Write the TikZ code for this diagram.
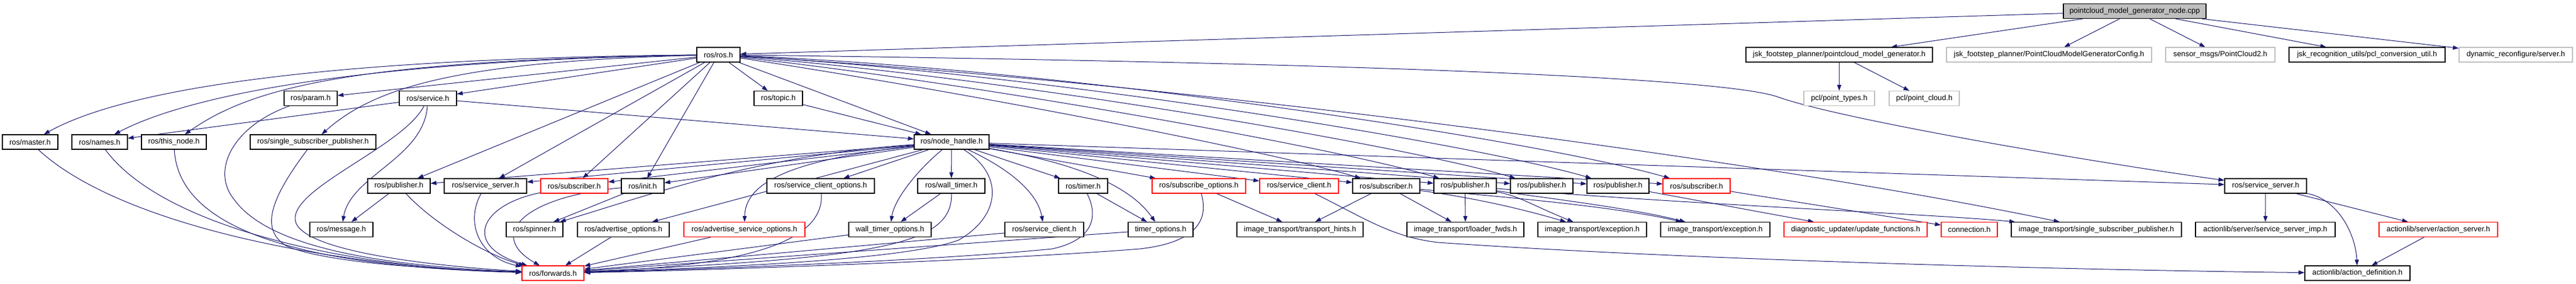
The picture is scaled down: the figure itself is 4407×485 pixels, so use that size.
\documentclass[tikz,border=0pt]{standalone}
\usepackage{fontspec}
\setmainfont{Liberation Sans}
\usetikzlibrary{arrows.meta}
\definecolor{edgec}{HTML}{191970}
\definecolor{greyb}{HTML}{BFBFBF}
\definecolor{redb}{HTML}{FF0000}
\pgfdeclarelayer{bg}
\pgfsetlayers{bg,main}
\begin{document}
\begin{tikzpicture}[x=1bp,y=-1bp,
  box/.style={draw=black, line width=1.2bp, minimum height=25bp, inner sep=0pt, font=\fontsize{12.9}{15}\selectfont, text=black, fill=white},
  redbox/.style={box, draw=redb},
  greybox/.style={box, draw=greyb},
  rootbox/.style={box, fill=greyb},
  edge/.style={draw=edgec, line width=1bp, -{Triangle[length=10bp,width=7bp]}},
]
\useasboundingbox (0,0) rectangle (4407,485);
% row 0
\node[rootbox, minimum width=244bp] (root) at (3652,19) {pointcloud\_model\_generator\_node.cpp};
% row 1
\node[box, minimum width=74bp] (ros) at (1229,93.5) {ros/ros.h};
\node[box, minimum width=319bp] (pmg) at (3146.5,93.5) {jsk\_footstep\_planner/pointcloud\_model\_generator.h};
\node[greybox, minimum width=351bp] (cfg) at (3505.5,93.5) {jsk\_footstep\_planner/PointCloudModelGeneratorConfig.h};
\node[greybox, minimum width=187bp] (pc2) at (3798.5,93.5) {sensor\_msgs/PointCloud2.h};
\node[box, minimum width=267bp] (pclconv) at (4049.5,93.5) {jsk\_recognition\_utils/pcl\_conversion\_util.h};
\node[greybox, minimum width=194bp] (dyn) at (4304,93.5) {dynamic\_reconfigure/server.h};
% row 2
\node[box, minimum width=91bp] (param) at (531.5,168) {ros/param.h};
\node[box, minimum width=98bp] (service) at (732,168) {ros/service.h};
\node[box, minimum width=83bp] (topic) at (1331.5,168) {ros/topic.h};
\node[greybox, minimum width=121bp] (ptypes) at (3146.5,168) {pcl/point\_types.h};
\node[greybox, minimum width=120bp] (pcloud) at (3292,168) {pcl/point\_cloud.h};
% row 3
\node[box, minimum width=95bp] (master) at (51.5,242.5) {ros/master.h};
\node[box, minimum width=95bp] (names) at (170.5,242.5) {ros/names.h};
\node[box, minimum width=111bp] (thisnode) at (297.5,242.5) {ros/this\_node.h};
\node[box, minimum width=215bp] (ssp) at (535.5,242.5) {ros/single\_subscriber\_publisher.h};
\node[box, minimum width=128bp] (nh) at (1628,242.5) {ros/node\_handle.h};
% row 4
\node[box, minimum width=107bp] (pubA) at (682.5,317.5) {ros/publisher.h};
\node[box, minimum width=141bp] (ssA) at (830.5,317.5) {ros/service\_server.h};
\node[redbox, minimum width=115bp] (subR) at (982.5,317.5) {ros/subscriber.h};
\node[box, minimum width=73bp] (init) at (1099.5,317.5) {ros/init.h};
\node[box, minimum width=184bp] (sco) at (1404,317.5) {ros/service\_client\_options.h};
\node[box, minimum width=115bp] (wt) at (1627.5,317.5) {ros/wall\_timer.h};
\node[box, minimum width=84bp] (timer) at (1853,317.5) {ros/timer.h};
\node[redbox, minimum width=160bp] (so) at (2051,317.5) {ros/subscribe\_options.h};
\node[redbox, minimum width=135bp] (scR) at (2222.5,317.5) {ros/service\_client.h};
\node[box, minimum width=115bp] (subB) at (2371.5,317.5) {ros/subscriber.h};
\node[box, minimum width=107bp] (pubB) at (2506.5,317.5) {ros/publisher.h};
\node[box, minimum width=107bp] (pubC) at (2637.5,317.5) {ros/publisher.h};
\node[box, minimum width=106bp] (pubD) at (2768,317.5) {ros/publisher.h};
\node[redbox, minimum width=115bp] (subE) at (2902.5,317.5) {ros/subscriber.h};
\node[box, minimum width=140bp] (ssB) at (3876,317.5) {ros/service\_server.h};
% row 5
\node[box, minimum width=108bp] (msg) at (584,392) {ros/message.h};
\node[box, minimum width=97bp] (spinner) at (914.5,392) {ros/spinner.h};
\node[box, minimum width=157bp] (ao) at (1066.5,392) {ros/advertise\_options.h};
\node[redbox, minimum width=207bp] (aso) at (1273.5,392) {ros/advertise\_service\_options.h};
\node[box, minimum width=141bp] (wto) at (1522.5,392) {wall\_timer\_options.h};
\node[box, minimum width=135bp] (sc) at (1786.5,392) {ros/service\_client.h};
\node[box, minimum width=111bp] (to) at (1985.5,392) {timer\_options.h};
\node[box, minimum width=216bp] (th) at (2224,392) {image\_transport/transport\_hints.h};
\node[box, minimum width=200bp] (lf) at (2507,392) {image\_transport/loader\_fwds.h};
\node[box, minimum width=186bp] (exA) at (2724,392) {image\_transport/exception.h};
\node[box, minimum width=187bp] (exB) at (2934.5,392) {image\_transport/exception.h};
\node[redbox, minimum width=245bp] (du) at (3174.5,392) {diagnostic\_updater/update\_functions.h};
\node[redbox, minimum width=96bp] (conn) at (3369,392) {connection.h};
\node[box, minimum width=291bp] (itssp) at (3586.5,392) {image\_transport/single\_subscriber\_publisher.h};
\node[box, minimum width=239bp] (ssimp) at (3875.5,392) {actionlib/server/service\_server\_imp.h};
\node[redbox, minimum width=203bp] (as) at (4171.5,392) {actionlib/server/action\_server.h};
% row 6
\node[redbox, minimum width=106bp] (fwd) at (946,466.5) {ros/forwards.h};
\node[box, minimum width=180bp] (ad) at (4033,466.5) {actionlib/action\_definition.h};

\begin{pgfonlayer}{bg}
% ---- edges from root
\draw[edge] (root) -- (ros);
\draw[edge] (root) -- (pmg);
\draw[edge] (root) -- (cfg);
\draw[edge] (root) -- (pc2);
\draw[edge] (root) -- (pclconv);
\draw[edge] (root) -- (dyn);
\draw[edge] (pmg) -- (ptypes);
\draw[edge] (pmg) -- (pcloud);
% ---- ros.h left
\draw[edge] (ros) .. controls (500,100) and (200,160) .. (master);
\draw[edge] (ros) .. controls (550,105) and (300,175) .. (names);
\draw[edge] (ros) .. controls (600,103) and (430,150) .. (thisnode);
\draw[edge] (ros) -- (param);
\draw[edge] (ros) -- (service);
\draw[edge] (ros) .. controls (780,105) and (640,150) .. (ssp);
% ---- ros.h bottom
\draw[edge] (ros) -- (pubA);
\draw[edge] (ros) -- (ssA);
\draw[edge] (ros) -- (subR);
\draw[edge] (ros) -- (init);
\draw[edge] (ros) -- (topic);
\draw[edge] (ros) -- (nh);
% ---- ros.h right
\draw[edge] (ros) .. controls (2400,108) and (2950,135) .. (3040,165) .. controls (3150,205) and (3600,280) .. (ssB);
\draw[edge] (ros) .. controls (2000,140) and (3000,270) .. (itssp);
\draw[edge] (ros) .. controls +(400,60) and +(-200,-60) .. (subB);
\draw[edge] (ros) .. controls +(450,50) and +(-220,-65) .. (pubB);
\draw[edge] (ros) .. controls +(500,40) and +(-240,-70) .. (pubC);
\draw[edge] (ros) .. controls +(550,32) and +(-260,-75) .. (pubD);
\draw[edge] (ros) .. controls +(600,25) and +(-280,-80) .. (subE);
% ---- service / topic
\draw[edge] (service) -- (names);
\draw[edge] (service) .. controls (725,270) and (600,300) .. (msg);
\draw[edge] (service) .. controls (690,250) and (500,320) .. (505,375) .. controls (510,430) and (750,455) .. (fwd);
\draw[edge] (service) -- (nh);
\draw[edge] (topic) -- (nh);
% ---- node_handle
\draw[edge] (nh) -- (pubA);
\draw[edge] (nh) -- (ssA);
\draw[edge] (nh) -- (subR);
\draw[edge] (nh) -- (init);
\draw[edge] (nh) .. controls (1300,265) and (1120,330) .. (spinner);
\draw[edge] (nh) -- (ao);
\draw[edge] (nh) .. controls (1330,275) and (1275,320) .. (aso);
\draw[edge] (nh) -- (sco);
\draw[edge] (nh) -- (wt);
\draw[edge] (nh) .. controls (1570,290) and (1530,340) .. (wto);
\draw[edge] (nh) .. controls (1730,290) and (1775,330) .. (sc);
\draw[edge] (nh) -- (timer);
\draw[edge] (nh) .. controls (1850,280) and (1935,320) .. (to);
\draw[edge] (nh) -- (so);
\draw[edge] (nh) -- (scR);
\draw[edge] (nh) -- (subB);
\draw[edge] (nh) -- (pubB);
\draw[edge] (nh) -- (pubC);
\draw[edge] (nh) -- (pubD);
\draw[edge] (nh) -- (subE);
\draw[edge] (nh) -- (ssB);
\draw[edge] (nh) .. controls (1720,300) and (1710,370) .. (1640,410) .. controls (1560,440) and (1300,455) .. (fwd);
% ---- into forwards
\draw[edge] (master) .. controls (200,380) and (550,455) .. (fwd);
\draw[edge] (names) .. controls (280,390) and (600,458) .. (fwd);
\draw[edge] (thisnode) .. controls (305,380) and (480,455) .. (fwd);
\draw[edge] (param) .. controls (400,215) and (360,290) .. (400,340) .. controls (450,410) and (600,452) .. (fwd);
\draw[edge] (ssp) .. controls (470,330) and (440,390) .. (490,420) .. controls (560,450) and (750,460) .. (fwd);
\draw[edge] (pubA) -- (msg);
\draw[edge] (pubA) .. controls (740,380) and (830,435) .. (fwd);
\draw[edge] (ssA) .. controls (795,380) and (820,440) .. (fwd);
\draw[edge] (subR) .. controls (820,350) and (790,420) .. (fwd);
\draw[edge] (init) .. controls (900,335) and (830,400) .. (fwd);
\draw[edge] (init) -- (spinner);
\draw[edge] (ao) -- (fwd);
\draw[edge] (aso) -- (fwd);
\draw[edge] (sco) .. controls (1412,420) and (1250,455) .. (fwd);
\draw[edge] (wt) -- (wto);
\draw[edge] (wt) .. controls (1630,420) and (1500,440) .. (fwd);
\draw[edge] (wto) -- (fwd);
\draw[edge] (sc) -- (fwd);
\draw[edge] (timer) -- (to);
\draw[edge] (timer) .. controls (1880,370) and (1870,410) .. (1800,425) .. controls (1600,445) and (1200,460) .. (fwd);
\draw[edge] (to) -- (fwd);
\draw[edge] (so) .. controls (2070,380) and (2040,415) .. (1950,425) .. controls (1700,445) and (1200,462) .. (fwd);
% ---- right part
\draw[edge] (so) -- (th);
\draw[edge] (scR) .. controls (2330,370) and (2380,405) .. (2460,414) .. controls (2900,445) and (3600,462) .. (ad);
\draw[edge] (subB) -- (th);
\draw[edge] (subB) -- (lf);
\draw[edge] (subB) .. controls (2500,335) and (2580,350) .. (exA);
\draw[edge] (subB) .. controls (2550,335) and (2750,350) .. (exB);
\draw[edge] (pubB) -- (lf);
\draw[edge] (pubB) .. controls (2600,335) and (2620,350) .. (exA);
\draw[edge] (pubB) .. controls (2620,335) and (2790,355) .. (exB);
\draw[edge] (pubB) .. controls (2900,350) and (3300,365) .. (itssp);
\draw[edge] (pubD) -- (du);
\draw[edge] (subE) -- (conn);
\draw[edge] (ssB) -- (ssimp);
\draw[edge] (ssB) -- (as);
\draw[edge] (ssB) .. controls (4000,340) and (4030,400) .. (ad);
\draw[edge] (as) -- (ad);
\end{pgfonlayer}
\end{tikzpicture}
\end{document}
